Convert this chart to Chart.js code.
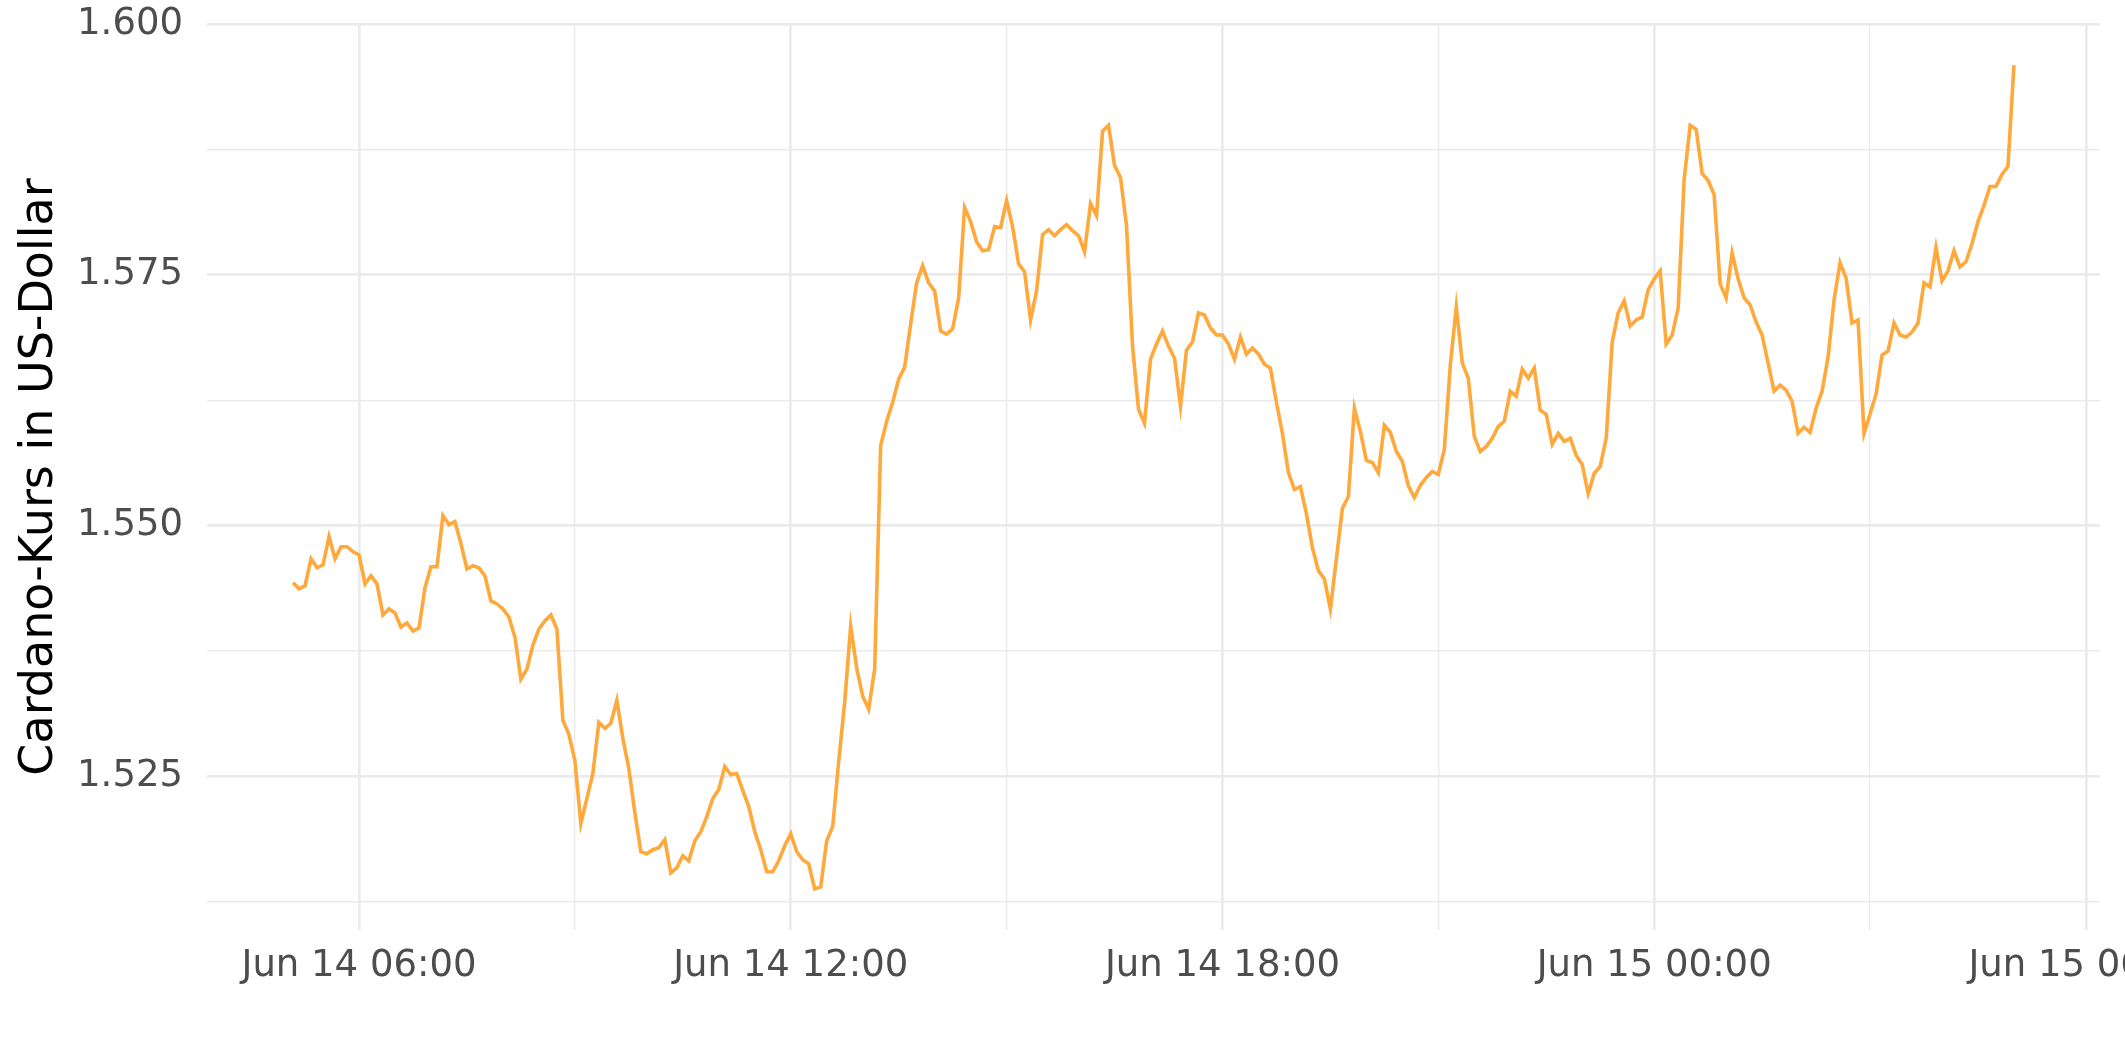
<!DOCTYPE html>
<html>
<head>
<meta charset="utf-8">
<title>Cardano-Kurs</title>
<script src="https://cdn.jsdelivr.net/npm/chart.js@4/dist/chart.umd.min.js"></script>
<style>
    html, body { margin: 0; padding: 0; background: #fff; overflow: hidden; }
    #wrap { width: 2220px; height: 1062px; }
</style>
</head>
<body>
<div id="wrap"><canvas id="diagram" width="2220" height="1062"></canvas></div>
<script>
// Zeitachse: 5-Minuten-Werte ab 14. Juni 05:05 (Stunden seit 14. Juni 00:00)
const startMinute = 5 * 60 + 5;
const stepMinutes = 5;

// Kurs in US-Dollar, eine Zeile pro Stunde (12 Werte)
const kurs = [
    1.5443, 1.5437, 1.5440, 1.5467, 1.5458, 1.5461, 1.5489, 1.5467, 1.5479, 1.5479, 1.5474, 1.5471,
    1.5442, 1.5450, 1.5442, 1.5411, 1.5417, 1.5413, 1.5399, 1.5403, 1.5395, 1.5398, 1.5438, 1.5459,
    1.5459, 1.5510, 1.5501, 1.5504, 1.5482, 1.5457, 1.5460, 1.5458, 1.5450, 1.5425, 1.5422, 1.5417,
    1.5409, 1.5389, 1.5347, 1.5357, 1.5381, 1.5397, 1.5405, 1.5411, 1.5397, 1.5306, 1.5292, 1.5266,
    1.5203, 1.5228, 1.5253, 1.5304, 1.5298, 1.5303, 1.5326, 1.5288, 1.5258, 1.5214, 1.5175, 1.5173,
    1.5177, 1.5179, 1.5187, 1.5154, 1.5159, 1.5171, 1.5166, 1.5186, 1.5195, 1.5210, 1.5228, 1.5237,
    1.5260, 1.5252, 1.5253, 1.5236, 1.5220, 1.5195, 1.5177, 1.5155, 1.5155, 1.5166, 1.5181, 1.5193,
    1.5175, 1.5167, 1.5163, 1.5138, 1.5140, 1.5186, 1.5200, 1.5265, 1.5324, 1.5400, 1.5358, 1.5330,
    1.5317, 1.5357, 1.5580, 1.5604, 1.5623, 1.5646, 1.5658, 1.5701, 1.5742, 1.5759, 1.5742, 1.5734,
    1.5694, 1.5691, 1.5696, 1.5727, 1.5817, 1.5803, 1.5783, 1.5774, 1.5775, 1.5798, 1.5797, 1.5824,
    1.5798, 1.5761, 1.5753, 1.5705, 1.5734, 1.5790, 1.5795, 1.5789, 1.5795, 1.5800, 1.5794, 1.5789,
    1.5773, 1.5821, 1.5809, 1.5893, 1.5899, 1.5859, 1.5847, 1.5799, 1.5679, 1.5616, 1.5602, 1.5666,
    1.5681, 1.5694, 1.5679, 1.5667, 1.5619, 1.5675, 1.5683, 1.5712, 1.5710, 1.5697, 1.5690, 1.5690,
    1.5681, 1.5666, 1.5688, 1.5671, 1.5677, 1.5671, 1.5661, 1.5657, 1.5623, 1.5592, 1.5553, 1.5536,
    1.5539, 1.5512, 1.5478, 1.5455, 1.5447, 1.5417, 1.5467, 1.5517, 1.5529, 1.5617, 1.5594, 1.5565,
    1.5563, 1.5553, 1.5600, 1.5593, 1.5574, 1.5564, 1.5540, 1.5528, 1.5540, 1.5548, 1.5554, 1.5551,
    1.5576, 1.5660, 1.5718, 1.5662, 1.5647, 1.5589, 1.5574, 1.5579, 1.5587, 1.5599, 1.5604, 1.5634,
    1.5629, 1.5656, 1.5647, 1.5657, 1.5615, 1.5611, 1.5581, 1.5592, 1.5584, 1.5587, 1.5570, 1.5561,
    1.5532, 1.5552, 1.5559, 1.5587, 1.5683, 1.5712, 1.5724, 1.5699, 1.5705, 1.5708, 1.5735, 1.5746,
    1.5754, 1.5681, 1.5690, 1.5717, 1.5845, 1.5899, 1.5895, 1.5851, 1.5844, 1.5830, 1.5741, 1.5727,
    1.5772, 1.5746, 1.5727, 1.5720, 1.5703, 1.5690, 1.5662, 1.5634, 1.5640, 1.5635, 1.5624, 1.5592,
    1.5598, 1.5593, 1.5617, 1.5634, 1.5668, 1.5725, 1.5762, 1.5747, 1.5702, 1.5705, 1.5592, 1.5611,
    1.5631, 1.5670, 1.5674, 1.5702, 1.5690, 1.5688, 1.5693, 1.5702, 1.5742, 1.5738, 1.5777, 1.5744,
    1.5754, 1.5774, 1.5758, 1.5763, 1.5781, 1.5803, 1.5819, 1.5838, 1.5838, 1.5850, 1.5858, 1.5959
];

// Achsenbeschriftung
const xTickHours = [6, 12, 18, 24, 30];
const xTickLabels = ['Jun 14 06:00', 'Jun 14 12:00', 'Jun 14 18:00', 'Jun 15 00:00', 'Jun 15 06:00'];
const xMinorHours = [9, 15, 21, 27];
const yTicks = [1.525, 1.550, 1.575, 1.600];
const yMinorTicks = [1.5125, 1.5375, 1.5625, 1.5875];

const xMin = 3.8875, xMax = 30.196;
const yMin = 1.5097, yMax = 1.6;

const gridColor = '#ebebeb';
const tickColor = '#4d4d4d';
const lineColor = '#ffa83b';
const fontFamily = "'DejaVu Sans', sans-serif";

window.onload = init;

function init() {
    const points = kurs.map((v, i) => ({ x: (startMinute + i * stepMinutes) / 60, y: v }));
    createChart(points);
}

function createChart(points) {
    const ctx = document.getElementById('diagram').getContext('2d');

    new Chart(ctx, {
        type: 'line',
        data: {
            datasets: [{
                data: points,
                borderColor: lineColor,
                borderWidth: 3.6,
                pointRadius: 0,
                tension: 0,
                fill: false
            }]
        },
        options: {
            responsive: false,
            animation: false,
            devicePixelRatio: 1,
            layout: { padding: { left: 0, top: 24, right: 120, bottom: 0 } },
            plugins: { legend: { display: false }, tooltip: { enabled: false } },
            scales: {
                x: {
                    type: 'linear',
                    min: xMin,
                    max: xMax,
                    afterBuildTicks: axis => {
                        axis.ticks = xTickHours.concat(xMinorHours).sort((a, b) => a - b).map(v => ({ value: v }));
                    },
                    afterFit: scale => { scale.height = 132; },
                    border: { display: false },
                    grid: {
                        color: gridColor,
                        drawTicks: false,
                        lineWidth: c => xTickHours.includes(c.tick && c.tick.value) ? 2.7 : 1.4
                    },
                    ticks: {
                        autoSkip: false,
                        maxRotation: 0,
                        padding: 14,
                        color: tickColor,
                        font: { family: fontFamily, size: 37 },
                        callback: v => {
                            const k = xTickHours.indexOf(v);
                            return k >= 0 ? xTickLabels[k] : '';
                        }
                    }
                },
                y: {
                    min: yMin,
                    max: yMax,
                    afterBuildTicks: axis => {
                        axis.ticks = yTicks.concat(yMinorTicks).sort((a, b) => a - b).map(v => ({ value: v }));
                    },
                    afterFit: scale => {
                        scale.width = 207;
                        scale.paddingTop = 0;
                        scale.paddingBottom = 0;
                    },
                    border: { display: false },
                    grid: {
                        color: gridColor,
                        drawTicks: false,
                        lineWidth: c => yTicks.some(t => Math.abs(t - (c.tick ? c.tick.value : 0)) < 1e-6) ? 2.7 : 1.4
                    },
                    ticks: {
                        padding: 24,
                        color: tickColor,
                        font: { family: fontFamily, size: 37 },
                        callback: v => yTicks.some(t => Math.abs(t - v) < 1e-6) ? v.toFixed(3) : ''
                    },
                    title: {
                        display: true,
                        text: 'Cardano-Kurs in US-Dollar',
                        color: '#000000',
                        font: { family: fontFamily, size: 46, lineHeight: 1.2 },
                        padding: { top: 12, bottom: 0 }
                    }
                }
            }
        }
    });
}
</script>
</body>
</html>
